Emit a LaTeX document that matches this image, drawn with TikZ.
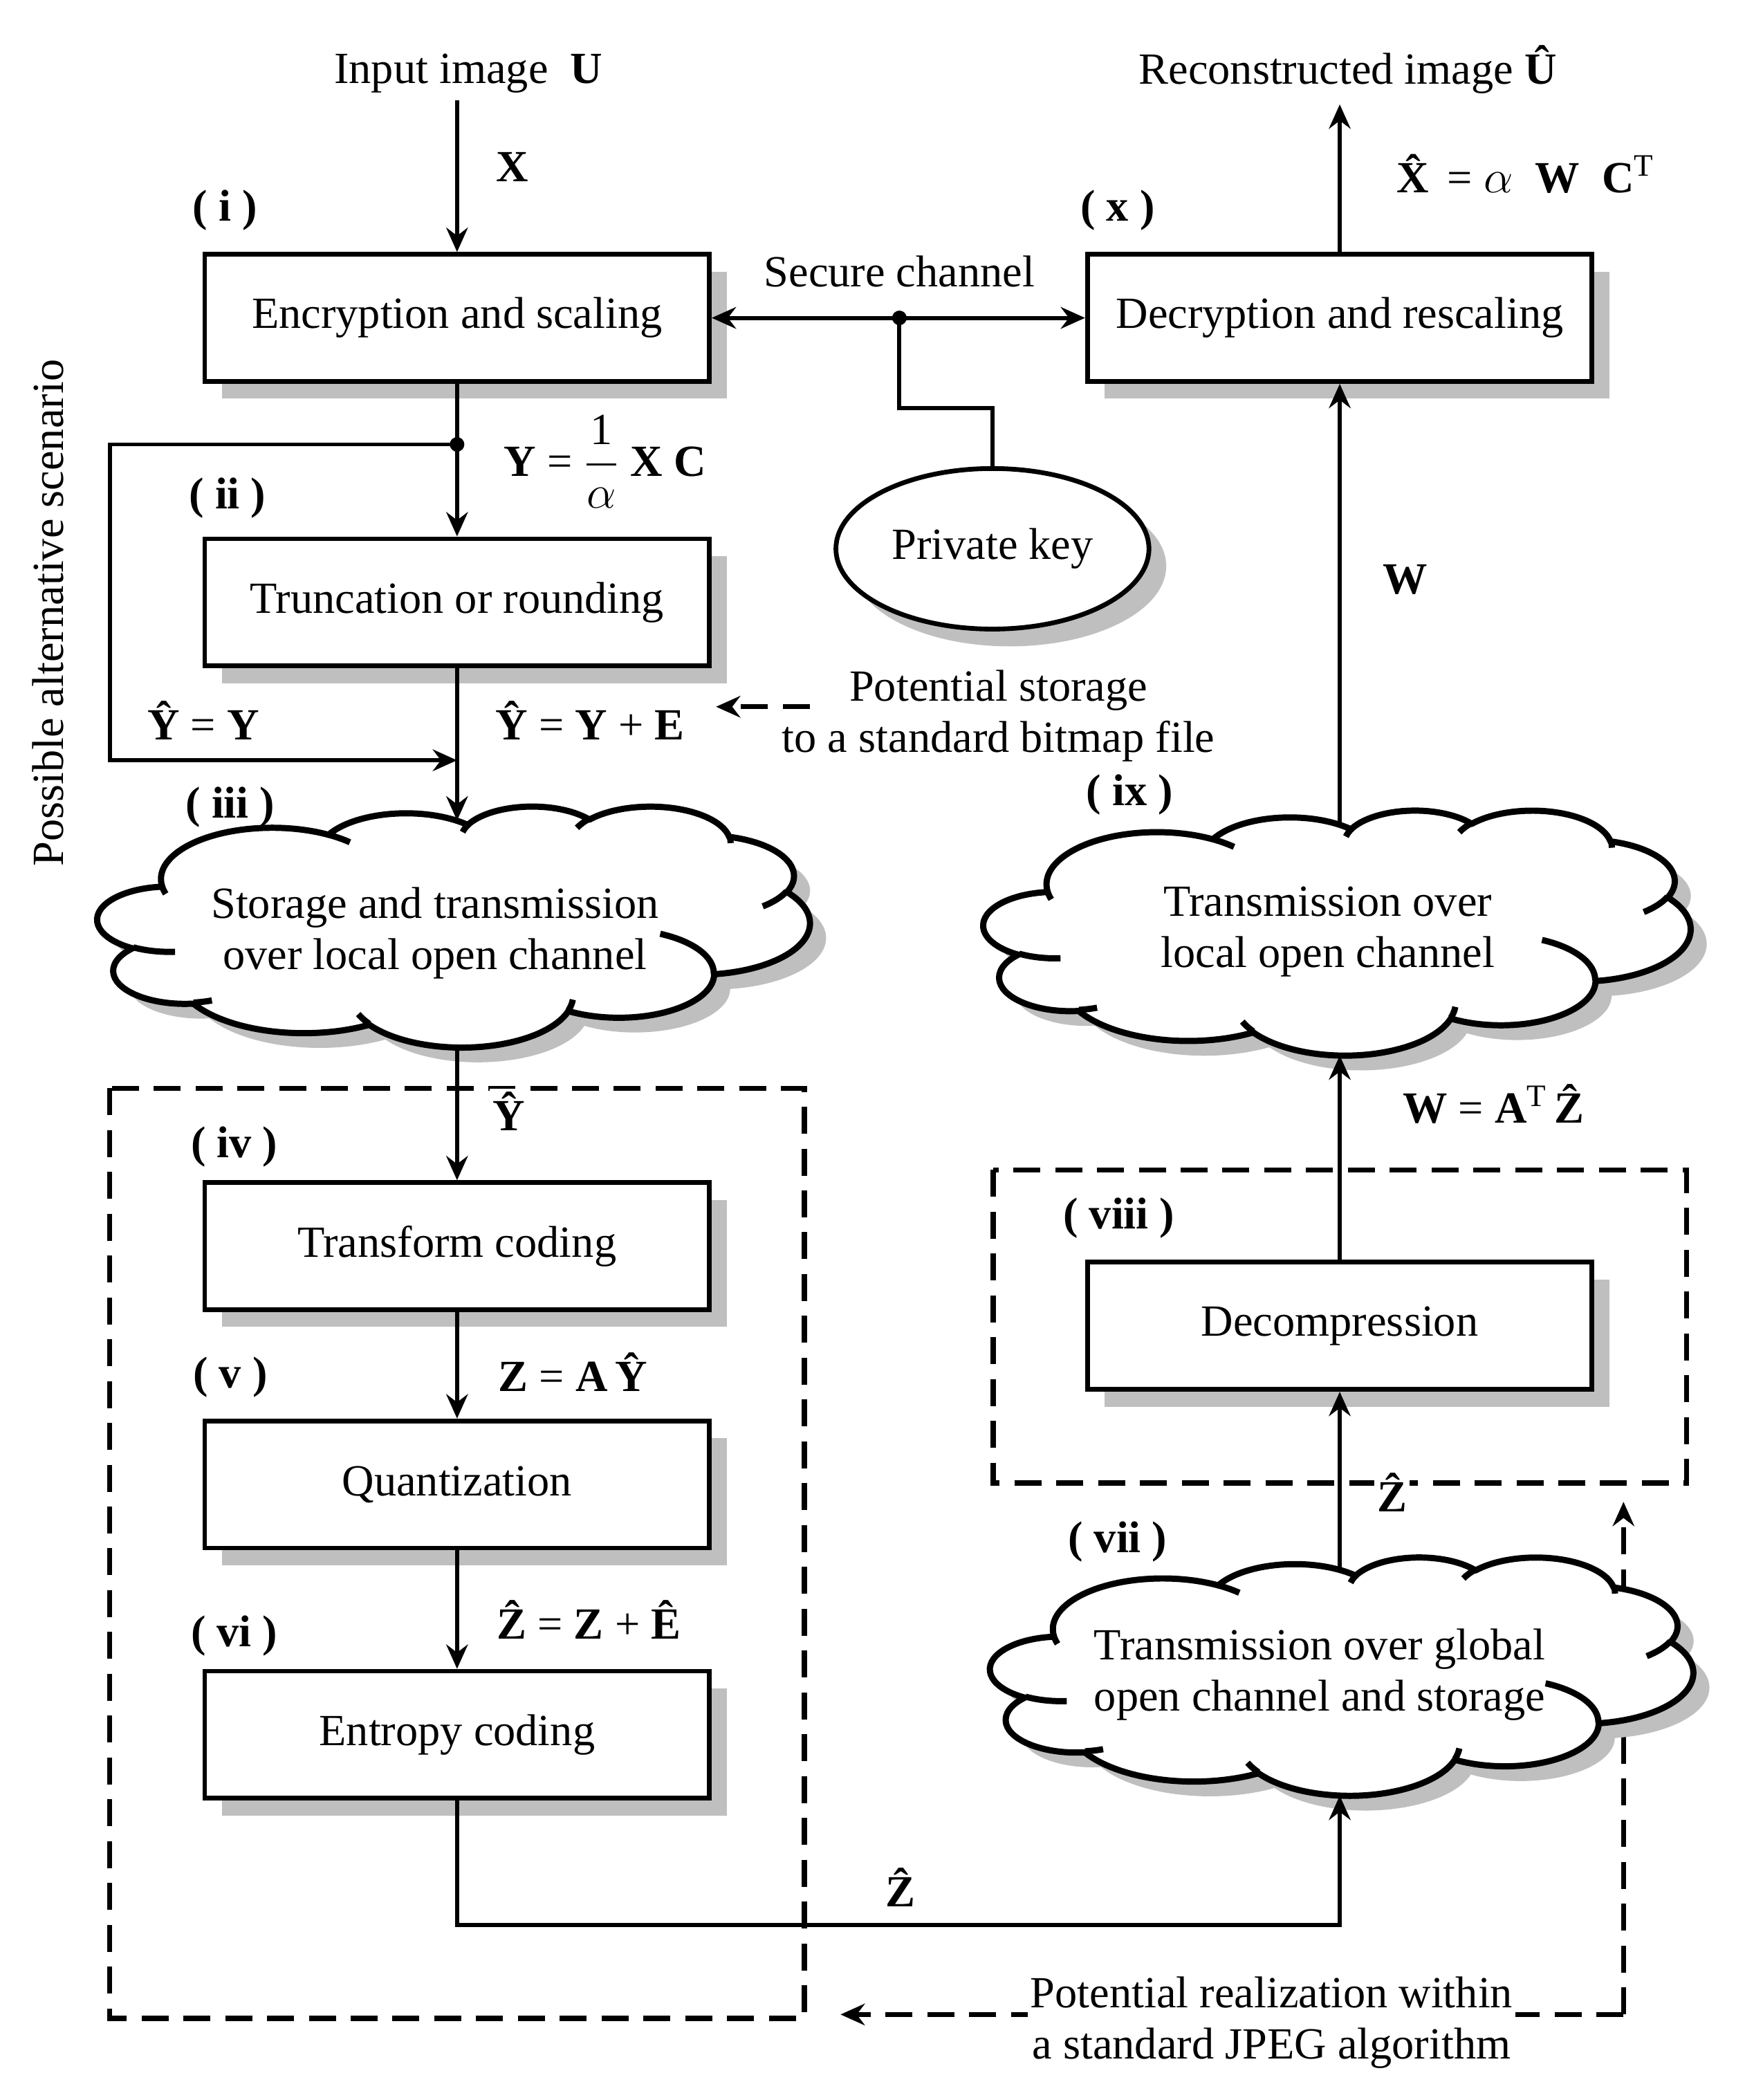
\documentclass[tikz,border=0pt]{standalone}
\usepackage{amsmath}
\usepackage{fontspec}
\setmainfont{Liberation Serif}
\usetikzlibrary{shapes.geometric,shadows,arrows.meta,calc}
\tikzset{
  cloudshade/.pic={
    \fill[black!25] (39,143.7)
      arc[start angle=172.25,delta angle=128.11,x radius=67.53,y radius=91.90]
      arc[start angle=-152.02,delta angle=106.57,x radius=53.33,y radius=72.67]
      arc[start angle=-153.49,delta angle=116.16,x radius=43.65,y radius=59.45]
      arc[start angle=-139.70,delta angle=129.49,x radius=48.57,y radius=65.95]
      arc[start angle=-74.77,delta angle=97.98,x radius=53.33,y radius=72.73]
      arc[start angle=-37.51,delta angle=119.37,x radius=67.75,y radius=92.20]
      arc[start angle=0.46,delta angle=121.52,x radius=57.85,y radius=78.67]
      arc[start angle=16.85,delta angle=129.36,x radius=67.52,y radius=92.15]
      arc[start angle=58.98,delta angle=91.19,x radius=77.20,y radius=105.43]
      arc[start angle=83.30,delta angle=139.79,x radius=43.60,y radius=59.18]
      arc[start angle=120.36,delta angle=143.75,x radius=43.45,y radius=59.45]
      -- cycle;
  },
  cloudbody/.pic={
    \filldraw[fill=white,draw=black,line width=2.3pt,line join=round] (39,143.7)
      arc[start angle=172.25,delta angle=128.11,x radius=67.53,y radius=91.90]
      arc[start angle=-152.02,delta angle=106.57,x radius=53.33,y radius=72.67]
      arc[start angle=-153.49,delta angle=116.16,x radius=43.65,y radius=59.45]
      arc[start angle=-139.70,delta angle=129.49,x radius=48.57,y radius=65.95]
      arc[start angle=-74.77,delta angle=97.98,x radius=53.33,y radius=72.73]
      arc[start angle=-37.51,delta angle=119.37,x radius=67.75,y radius=92.20]
      arc[start angle=0.46,delta angle=121.52,x radius=57.85,y radius=78.67]
      arc[start angle=16.85,delta angle=129.36,x radius=67.52,y radius=92.15]
      arc[start angle=58.98,delta angle=91.19,x radius=77.20,y radius=105.43]
      arc[start angle=83.30,delta angle=139.79,x radius=43.60,y radius=59.18]
      arc[start angle=120.36,delta angle=143.75,x radius=43.45,y radius=59.45]
      -- cycle;
    \begin{scope}[line width=2.3pt]
    \draw (46.93,261.77) arc[start angle=85.55,delta angle=34.81,x radius=43.45,y radius=59.45];
    \draw (69.28,348.99) arc[start angle=68.24,delta angle=15.06,x radius=43.60,y radius=59.18];
    \draw (164.78,390.90) arc[start angle=146.21,delta angle=12.26,x radius=67.52,y radius=92.15];
    \draw (288.27,347.51) arc[start angle=4.74,delta angle=12.11,x radius=67.52,y radius=92.15];
    \draw (341.29,229.54) arc[start angle=-64.03,delta angle=64.49,x radius=57.85,y radius=78.67];
    \draw (417.98,153.54) arc[start angle=23.21,delta angle=26.43,x radius=53.33,y radius=72.73];
    \draw (383.24,54.26) arc[start angle=-10.21,delta angle=11.03,x radius=48.57,y radius=65.95];
    \draw (290.78,39.52) arc[start angle=-156.29,delta angle=16.59,x radius=48.57,y radius=65.95];
    \draw (221.41,47.20) arc[start angle=-167.72,delta angle=14.23,x radius=43.65,y radius=59.45];
    \draw (140.00,51.92) arc[start angle=-59.64,delta angle=13.91,x radius=67.53,y radius=91.90];
    \draw (41.27,157.89) arc[start angle=163.20,delta angle=9.05,x radius=67.53,y radius=91.90];
    \end{scope}
  }
}
\begin{document}
\begin{tikzpicture}[x=0.496pt,y=-0.496pt,
  font=\fontsize{16.5}{19}\selectfont,
  shad/.style={drop shadow={shadow xshift=6.4pt,shadow yshift=-6.4pt,fill=black!25,opacity=1}},
  box/.style={draw,line width=1.75pt,fill=white,minimum width=187pt,minimum height=47.1pt,inner sep=0pt,shad},
  lab/.style={font=\fontsize{16.5}{19}\selectfont\bfseries,inner sep=1pt},
  conn/.style={line width=1.5pt},
  tip/.style={-{Stealth[length=9pt,width=8pt,inset=3pt]}},
  arr/.style={conn,tip},
  dsh/.style={line width=1.9pt,dash pattern=on 10pt off 5.5pt},
  txt/.style={align=center,inner sep=1pt}
]
\useasboundingbox (0,0) rectangle (1310.5,1568.9);
\fill[white] (0,0) rectangle (1310.5,1568.9);

% dashed frames
\draw[dsh] (82,813) rectangle (601,1508);
\draw[dsh] (742,874) rectangle (1260,1108);

% dashed arrows
\coordinate (ps1) at (605,528);
\coordinate (ps2) at (535,528);
\draw[dsh,tip] (ps1) -- (ps2);
\coordinate (j1) at (1213,1122);
\coordinate (j2) at (1213,1505);
\coordinate (j3) at (628,1505);
\draw[dsh,tip] (j2) -- (j1);
\draw[dsh,tip] (j2) -- (j3);

% boxes
\node[box] (enc) at (341.5,237.5) {Encryption and scaling};
\node[box] (dec) at (1001,237.5) {Decryption and rescaling};
\node[box] (tru) at (341.5,450) {Truncation or rounding};
\node[box] (tra) at (341.5,931) {Transform coding};
\node[box] (qua) at (341.5,1109) {Quantization};
\node[box] (ent) at (341.5,1296) {Entropy coding};
\node[box] (dcm) at (1001,990.5) {Decompression};
\node[ellipse,draw,line width=1.75pt,fill=white,minimum width=116pt,minimum height=59.5pt,inner sep=0pt,shad] (key) at (741.5,410) {Private key};

% clouds (x0,y0 = top-left, 432 units = full width/height)
\pic[xscale=532/432,yscale=180/432] (c3s) at (85,613) {cloudshade};
\pic[xscale=532/432,yscale=180/432] (c3) at (73,602) {cloudbody};
\pic[xscale=528/432,yscale=183/432] (c9s) at (747,616) {cloudshade};
\pic[xscale=528/432,yscale=183/432] (c9) at (735,605) {cloudbody};
\pic[xscale=525/432,yscale=178/432] (c7s) at (752,1174) {cloudshade};
\pic[xscale=525/432,yscale=178/432] (c7) at (740,1163) {cloudbody};
\coordinate (c3top) at (341.5,613);
\coordinate (c3bot) at (341.5,782.5);
\coordinate (c9top) at (1001,616);
\coordinate (c9bot) at (1001,788.5);
\coordinate (c7top) at (1001,1173);
\coordinate (c7bot) at (1001,1341.5);
\node[txt] (t3) at (325,697) {Storage and transmission\\over local open channel};
\node[txt] (t9) at (992,696) {Transmission over\\local open channel};
\node[txt] (t7) at (986,1251) {Transmission over global\\open channel and storage};

% texts
\node[txt] (inp) at (350,55) {Input image~~\textbf{U}};
\node[txt] (rec) at (1007,52) {Reconstructed image \textbf{\^U}};
\node[txt] (sec) at (672,203) {Secure channel};
\node[txt] (pst) at (746,535) {Potential storage\\to a standard bitmap file};
\node[txt,fill=white] (pjp) at (950,1511) {Potential realization within\\a standard JPEG algorithm};
\node[txt,rotate=90] (alt) at (36,458) {Possible alternative scenario};

% step labels
\node[lab] (li) at (168,157) {( i )};
\node[lab] (lx) at (835,157) {( x )};
\node[lab] (lii) at (170,372) {( ii )};
\node[lab] (liii) at (172,603) {( iii )};
\node[lab] (lix) at (844,594) {( ix )};
\node[lab] (liv) at (175,857) {( iv )};
\node[lab] (lviii) at (836,910) {( viii )};
\node[lab] (lv) at (172,1029) {( v )};
\node[lab] (lvii) at (835,1152) {( vii )};
\node[lab] (lvi) at (175,1222) {( vi )};

% math labels
\node[lab] (xl) at (383,125) {X};
\node[txt] (xhat) at (1140,130) {\textbf{\^X} = $\alpha$~~\textbf{W}~~\textbf{C}\textsuperscript{T}};
\node[txt] (yeq) at (452,345) {\textbf{Y} = $\dfrac{\mbox{1}}{\alpha}$~\textbf{X}~\textbf{C}};
\node[lab] (w1) at (1050,433) {W};
\node[txt] (yhy) at (152,538) {\textbf{\^Y} = \textbf{Y}};
\node[txt] (yhye) at (441,538) {\textbf{\^Y} = \textbf{Y} + \textbf{E}};
\node[txt,fill=white] (yh2) at (380,830) {\textbf{\^Y}};
\node[txt] (wat) at (1116,825) {\textbf{W} = \textbf{A}\textsuperscript{T}\,\textbf{\^Z}};
\node[txt] (zay) at (428,1025) {\textbf{Z} = \textbf{A}\,\textbf{\^Y}};
\node[txt,fill=white] (zh1) at (1040,1115) {\textbf{\^Z}};
\node[txt] (zze) at (440,1210) {\textbf{\^Z} = \textbf{Z} + \textbf{\^E}};
\node[txt] (zh2) at (673,1410) {\textbf{\^Z}};

% connectors
\coordinate (inpb) at (341.5,75);
\coordinate (recb) at (1001,78);
\draw[arr] (inpb) -- (enc.north);
\draw[arr] (dec.north) -- (recb);
\coordinate (sdot) at (672,237.5);
\coordinate (kb) at (672,305);
\draw[conn,{Stealth[length=9pt,width=8pt,inset=3pt]}-{Stealth[length=9pt,width=8pt,inset=3pt]}] (enc.east) -- (dec.west);
\fill (sdot) circle (2.7pt);
\draw[conn] (sdot) -- (kb) -| (key.north);
\coordinate (jdot) at (341.5,332);
\coordinate (alt1) at (82,332);
\coordinate (alt2) at (82,568);
\coordinate (alt3) at (341.5,568);
\draw[arr] (enc.south) -- (tru.north);
\fill (jdot) circle (2.7pt);
\draw[arr] (jdot) -- (alt1) -- (alt2) -- (alt3);
\draw[arr] (tru.south) -- (c3top);
\draw[arr] (c3bot) -- (tra.north);
\draw[arr] (tra.south) -- (qua.north);
\draw[arr] (qua.south) -- (ent.north);
\coordinate (zb) at (341.5,1438);
\coordinate (zc) at (1001,1438);
\draw[arr] (ent.south) -- (zb) -- (zc) -- (c7bot);
\draw[arr] (c7top) -- (dcm.south);
\draw[arr] (dcm.north) -- (c9bot);
\draw[arr] (c9top) -- (dec.south);
\end{tikzpicture}
\end{document}
